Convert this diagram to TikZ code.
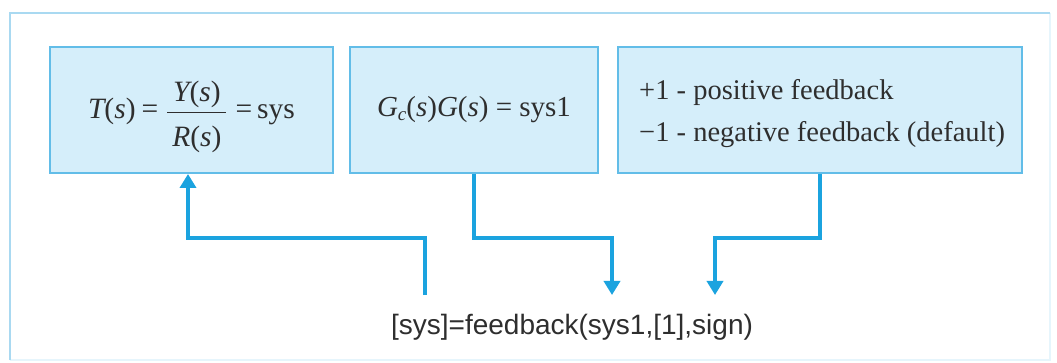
\documentclass[tikz,border=0pt]{standalone}
\usepackage{fontspec}
\setmainfont{Liberation Serif}
\newfontfamily\helv{Liberation Sans}
\usetikzlibrary{arrows.meta}
\definecolor{framec}{HTML}{A9D9F1}
\definecolor{framefaint}{HTML}{E6F5FC}
\definecolor{boxfill}{HTML}{D5EEFA}
\definecolor{boxline}{HTML}{62BDE8}
\definecolor{wire}{HTML}{1BA3DF}
\definecolor{ink}{HTML}{2E2E2E}
\tikzset{
  infobox/.style={draw=boxline, line width=2pt, fill=boxfill, minimum height=126pt,
    inner sep=0pt, text=ink},
  boxtext/.style={inner sep=0pt, text=ink},
  wirearrow/.style={draw=wire, line width=4pt,
    -{Triangle[width=16pt,length=14pt]}},
}
% numerator and denominator of the transfer-function fraction, with extra room round the bar
\newcommand{\numpart}[1]{\hbox{\rule[-8pt]{0pt}{8pt}\,#1\,}}
\newcommand{\denpart}[1]{\hbox{\rule{0pt}{33pt}\,#1\,}}
\begin{document}
\begin{tikzpicture}[x=1pt,y=-1pt]
  \useasboundingbox (0,0) rectangle (1057,363);
  \fill[white] (0,0) rectangle (1057,363);
  % outer panel: left and top edges strong, right and bottom faint
  \draw[framefaint, line width=2.5pt] (1050,13) -- (1050,360) -- (10,360);
  \draw[framec, line width=2.5pt] (10,360) -- (10,13) -- (1050,13);

  \node[infobox, minimum width=283pt] (b1) at (191.5,110) {};
  \node[boxtext, font=\fontsize{29.5}{33}\selectfont] (b1t) at ([yshift=-7pt]b1.center)
    {{\itshape T}({\itshape s})\hspace{6pt}=\hspace{8pt}$\displaystyle\frac{\numpart{{\itshape Y}({\itshape s})}}{\denpart{{\itshape R}({\itshape s})}}$\hspace{8pt}=\hspace{5pt}sys};
  \node[infobox, minimum width=248pt, font=\fontsize{29}{33}\selectfont] (b2) at (474,110)
    {{\itshape G}\raisebox{-0.25ex}{\fontsize{19}{21}\selectfont\itshape c}({\itshape s}){\itshape G}({\itshape s}) = sys1};
  \node[infobox, minimum width=404pt] (b3) at (820,110) {};
  \node[boxtext, anchor=west, align=left,
        font=\fontsize{28.5}{42}\selectfont] (b3t) at ([xshift=22pt,yshift=-4pt]b3.west)
    {+1 - positive feedback\\−1 - negative feedback (default)};

  \node[font=\helv\fontsize{28}{32}\selectfont, text=ink] (fb) at (572,327)
    {[sys]=feedback(sys1,[1],sign)};

  \coordinate (o1) at (425,295);
  \coordinate (i1) at (612,295);
  \coordinate (i2) at (715,295);
  \coordinate (t1) at (188,173);

  \draw[wirearrow] (o1) |- (188,238) -- (b1.south -| t1);
  \draw[wirearrow] (b2.south) |- (612,238) -- (i1);
  \draw[wirearrow] (b3.south) |- (715,238) -- (i2);
\end{tikzpicture}
\end{document}
